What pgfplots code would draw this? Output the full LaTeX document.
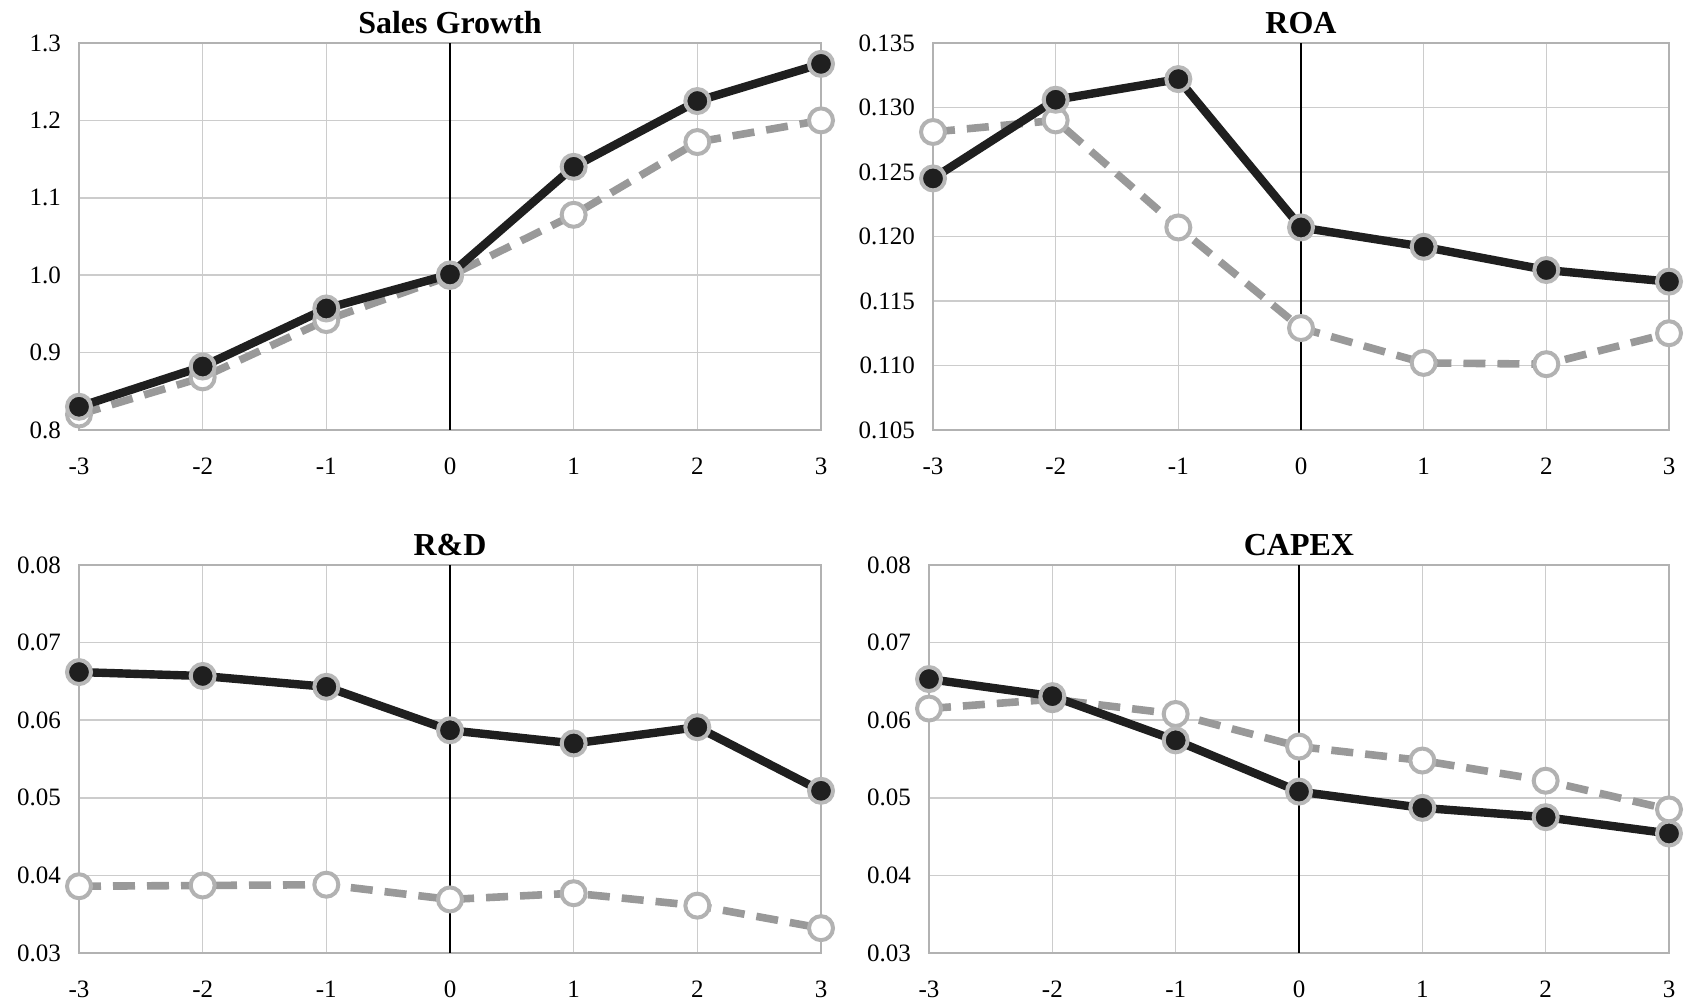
\documentclass[border=0pt]{standalone}
\usepackage{fontspec}
\setmainfont{Liberation Serif}
\usepackage{pgfplots}
\pgfplotsset{compat=1.18}

\pgfplotsset{
 panel/.style={
   scale only axis, width=371pt, height=193.5pt,
   xmin=-3, xmax=3, xtick={-3,-2,-1,0,1,2,3}, xticklabels={-3,-2,-1,0,1,2,3},
   grid=major, major grid style={black!20, line width=0.8pt},
   axis line style={black!30, line width=0.8pt},
   major tick length=0pt,
   scaled y ticks=false,
   tick label style={font=\fontsize{12.5}{14}\selectfont, black},
   yticklabel style={xshift=-5.5pt, /pgf/number format/fixed, /pgf/number format/fixed zerofill},
   xticklabel style={yshift=-10.5pt},
   title style={font=\fontsize{16}{18}\selectfont\bfseries, yshift=-4.8pt},
   /pgf/number format/assume math mode=true,
   clip=false,
   anchor=south west,
 },
 blk/.style={black!88, line width=4.2pt, mark=*, mark size=6pt, mark options={solid, fill=black!88, draw=black!28, line width=2pt}},
 gry/.style={black!40, line width=3.8pt, dash pattern=on 11pt off 6pt, mark=*, mark size=6pt, mark options={solid, fill=white, draw=black!30, line width=2pt}},
 zero/.style={black, line width=0.8pt, mark=none},
}

\begin{document}
\begin{tikzpicture}
\useasboundingbox (0,0) rectangle (849pt,502pt);

% Sales Growth
\begin{axis}[panel, at={(39.5pt,287pt)}, title={Sales Growth},
  ymin=0.8, ymax=1.3, ytick={0.8,0.9,1.0,1.1,1.2,1.3},
  yticklabel style={/pgf/number format/precision=1}]
\addplot[zero] coordinates {(0,0.8) (0,1.3)};
\addplot[gry] coordinates {(-3,0.820) (-2,0.868) (-1,0.942) (0,0.999) (1,1.078) (2,1.172) (3,1.200)};
\addplot[blk] coordinates {(-3,0.830) (-2,0.882) (-1,0.957) (0,1.001) (1,1.140) (2,1.225) (3,1.273)};
\end{axis}

% ROA
\begin{axis}[panel, at={(466.5pt,287pt)}, width=368pt, title={ROA},
  ymin=0.105, ymax=0.135, ytick={0.105,0.110,0.115,0.120,0.125,0.130,0.135},
  yticklabel style={/pgf/number format/precision=3}]
\addplot[zero] coordinates {(0,0.105) (0,0.135)};
\addplot[gry] coordinates {(-3,0.1281) (-2,0.1290) (-1,0.1207) (0,0.1129) (1,0.1102) (2,0.1101) (3,0.1125)};
\addplot[blk] coordinates {(-3,0.1245) (-2,0.1306) (-1,0.1322) (0,0.1207) (1,0.1192) (2,0.1174) (3,0.1165)};
\end{axis}

% R&D
\begin{axis}[panel, at={(39.5pt,25.5pt)}, height=194pt, title={R\&D},
  ymin=0.03, ymax=0.08, ytick={0.03,0.04,0.05,0.06,0.07,0.08},
  yticklabel style={/pgf/number format/precision=2}]
\addplot[zero] coordinates {(0,0.03) (0,0.08)};
\addplot[gry] coordinates {(-3,0.0386) (-2,0.0387) (-1,0.0388) (0,0.0369) (1,0.0377) (2,0.0361) (3,0.0332)};
\addplot[blk] coordinates {(-3,0.0662) (-2,0.0657) (-1,0.0643) (0,0.0587) (1,0.0570) (2,0.0591) (3,0.0509)};
\end{axis}

% CAPEX
\begin{axis}[panel, at={(464.5pt,25.5pt)}, width=370pt, height=194pt, title={CAPEX},
  ymin=0.03, ymax=0.08, ytick={0.03,0.04,0.05,0.06,0.07,0.08},
  yticklabel style={/pgf/number format/precision=2}]
\addplot[zero] coordinates {(0,0.03) (0,0.08)};
\addplot[gry] coordinates {(-3,0.0615) (-2,0.0627) (-1,0.0608) (0,0.0566) (1,0.0548) (2,0.0522) (3,0.0485)};
\addplot[blk] coordinates {(-3,0.0653) (-2,0.0631) (-1,0.0574) (0,0.0508) (1,0.0487) (2,0.0475) (3,0.0454)};
\end{axis}
\end{tikzpicture}
\end{document}
